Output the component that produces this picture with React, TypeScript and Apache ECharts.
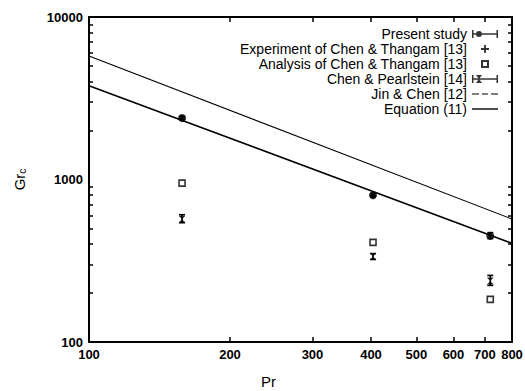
import React, { useEffect, useRef } from "react";
import * as echarts from "echarts";

const prPoints = [158, 404, 719];
const presentGr = [2390, 800, 450];
const presentLow = [2330, 780, 433];
const presentHigh = [2450, 820, 471];
const experimentGr = [2390, 800, 450];
const analysisGr = [950, 410, 183];
const pearlsteinGr = [570, 336, 237];
const pearlsteinLow = [542, 322, 223];
const pearlsteinHigh = [607, 350, 257];
const linePr = [100, 800];
const jinChenGr = [5750, 571];
const equationGr = [3780, 405];

const xLabelValues = [100, 200, 300, 400, 500, 600, 700, 800];
const xTickValues = [200, 300, 400, 500, 600, 700];
const yLabelValues = [100, 1000, 10000];
const yTickValues = [200, 300, 400, 500, 600, 700, 800, 900, 2000, 3000, 4000, 5000, 6000, 7000, 8000, 9000];

const legendNames = [
  "Present study",
  "Experiment of Chen & Thangam [13]",
  "Analysis of Chen & Thangam [13]",
  "Chen & Pearlstein [14]",
  "Jin & Chen [12]",
  "Equation (11)",
];

const FONT = "'Liberation Sans', Arial, sans-serif";

const iconPresent =
  "path://M0 0H1.5V8H0Z M24.5 0H26V8H24.5Z M0 3.3H26V4.7H0Z M4 4A3 3 0 1 1 10 4A3 3 0 1 1 4 4Z";
const iconPlus = "path://M3.3 1H4.7V3.3H7V4.7H4.7V7H3.3V4.7H1V3.3H3.3Z";
const iconSquare = "path://M0 0H7V7H0Z M1.8 1.8V5.2H5.2V1.8Z";
const iconPearl =
  "path://M0 0H1.5V8H0Z M24.5 0H26V8H24.5Z M0 3.3H26V4.7H0Z M4 0H10L7 4L10 8H4L7 4Z";
const iconDash = "path://M0 0H7V1H0Z M10 0H16V1H10Z M19 0H26V1H19Z";
const iconSolid = "path://M0 0H26V1.4H0Z";

function errorBarRender(params: any, api: any) {
  const x = api.value(0);
  const lo = api.coord([x, api.value(1)]);
  const hi = api.coord([x, api.value(2)]);
  const w = 3;
  const style = { stroke: "#000", lineWidth: 1.6 };
  return {
    type: "group",
    children: [
      { type: "line", shape: { x1: lo[0], y1: lo[1], x2: hi[0], y2: hi[1] }, style },
      { type: "line", shape: { x1: lo[0] - w, y1: lo[1], x2: lo[0] + w, y2: lo[1] }, style },
      { type: "line", shape: { x1: hi[0] - w, y1: hi[1], x2: hi[0] + w, y2: hi[1] }, style },
    ],
  };
}

export default function App() {
  const ref = useRef<HTMLDivElement>(null);
  useEffect(() => {
    if (!ref.current) return;
    const chart = echarts.init(ref.current, undefined, { renderer: "svg" });
    const axisLine = { lineStyle: { color: "#000", width: 2 } };
    const tickStyle = { lineStyle: { color: "#000", width: 1.5 } };
    const baseX = {
      type: "log",
      logBase: 10,
      min: 100,
      max: 800,
      splitLine: { show: false },
      axisLine,
    };
    const baseY = {
      type: "log",
      logBase: 10,
      min: 100,
      max: 10000,
      splitLine: { show: false },
      axisLine,
    };
    const option: any = {
      animation: false,
      textStyle: { fontFamily: FONT },
      grid: { left: 89, right: 13, top: 17, bottom: 49, outerBoundsMode: "none", containLabel: false },
      legend: {
        orient: "vertical",
        align: "right",
        right: 22,
        top: 22,
        itemWidth: 26,
        itemHeight: 8,
        itemGap: 1,
        selectedMode: false,
        textStyle: { fontSize: 14, color: "#000", fontFamily: FONT, lineHeight: 13.5 },
        itemStyle: { color: "#000", borderWidth: 0 },
        data: [
          { name: legendNames[0], icon: iconPresent },
          { name: legendNames[1], icon: iconPlus },
          { name: legendNames[2], icon: iconSquare },
          { name: legendNames[3], icon: iconPearl },
          { name: legendNames[4], icon: iconDash },
          { name: legendNames[5], icon: iconSolid },
        ],
      },
      xAxis: [
        {
          ...baseX,
          position: "bottom",
          name: "Pr",
          nameLocation: "middle",
          nameGap: 32,
          nameTextStyle: { fontSize: 15, color: "#000", fontFamily: FONT, padding: [0, 64, 0, 0] },
          axisTick: { inside: true, length: 5, customValues: xTickValues, ...tickStyle },
          axisLabel: {
            customValues: xLabelValues,
            formatter: (v: number) => String(v),
            color: "#000",
            fontSize: 13,
            fontWeight: "bold",
            margin: 6,
            fontFamily: FONT,
          },
        },
        {
          ...baseX,
          position: "top",
          axisTick: { inside: true, length: 5, customValues: xTickValues, ...tickStyle },
          axisLabel: { show: false },
        },
      ],
      yAxis: [
        {
          ...baseY,
          position: "left",
          name: "{a|Gr}{b|c}",
          nameLocation: "middle",
          nameGap: 62,
          nameRotate: 90,
          nameTextStyle: {
            color: "#000",
            rich: {
              a: { fontSize: 15, color: "#000", fontFamily: FONT },
              b: { fontSize: 10, color: "#000", fontFamily: FONT, verticalAlign: "bottom", padding: [6, 0, 0, 0] },
            },
          },
          axisTick: { inside: true, length: 4, customValues: yTickValues, ...tickStyle },
          axisLabel: {
            customValues: yLabelValues,
            formatter: (v: number) => String(v),
            color: "#000",
            fontSize: 13,
            fontWeight: "bold",
            margin: 6,
            fontFamily: FONT,
          },
        },
        {
          ...baseY,
          position: "right",
          axisTick: { inside: true, length: 4, customValues: yTickValues, ...tickStyle },
          axisLabel: { show: false },
        },
      ],
      series: [
        {
          name: legendNames[4],
          type: "line",
          symbol: "none",
          data: linePr.map((p, i) => [p, jinChenGr[i]]),
          lineStyle: { color: "#000", width: 1.1 },
        },
        {
          name: legendNames[5],
          type: "line",
          symbol: "none",
          data: linePr.map((p, i) => [p, equationGr[i]]),
          lineStyle: { color: "#000", width: 1.6 },
        },
        {
          name: legendNames[0] + "_err",
          type: "custom",
          renderItem: errorBarRender,
          data: prPoints.map((p, i) => [p, presentLow[i], presentHigh[i]]),
          z: 3,
        },
        {
          name: legendNames[3] + "_err",
          type: "custom",
          renderItem: errorBarRender,
          data: prPoints.map((p, i) => [p, pearlsteinLow[i], pearlsteinHigh[i]]),
          z: 3,
        },
        {
          name: legendNames[1],
          type: "scatter",
          symbol: iconPlus,
          symbolSize: 6,
          itemStyle: { color: "#000" },
          data: prPoints.map((p, i) => [p, experimentGr[i]]),
          z: 3,
        },
        {
          name: legendNames[0],
          type: "scatter",
          symbol: "circle",
          symbolSize: 8,
          itemStyle: { color: "#000" },
          data: prPoints.map((p, i) => [p, presentGr[i]]),
          z: 4,
        },
        {
          name: legendNames[2],
          type: "scatter",
          symbol: "rect",
          symbolSize: 6,
          itemStyle: { color: "#fff", borderColor: "#000", borderWidth: 1.6 },
          data: prPoints.map((p, i) => [p, analysisGr[i]]),
          z: 4,
        },
        {
          name: legendNames[3],
          type: "scatter",
          symbol: "path://M0 0H10L5 5L10 10H0L5 5Z",
          symbolSize: 7,
          itemStyle: { color: "#000" },
          data: prPoints.map((p, i) => [p, pearlsteinGr[i]]),
          z: 4,
        },
      ],
    };
    chart.setOption(option);
    return () => chart.dispose();
  }, []);
  return <div ref={ref} style={{ width: 525, height: 391, position: "absolute", left: 0, top: 0 }} />;
}
